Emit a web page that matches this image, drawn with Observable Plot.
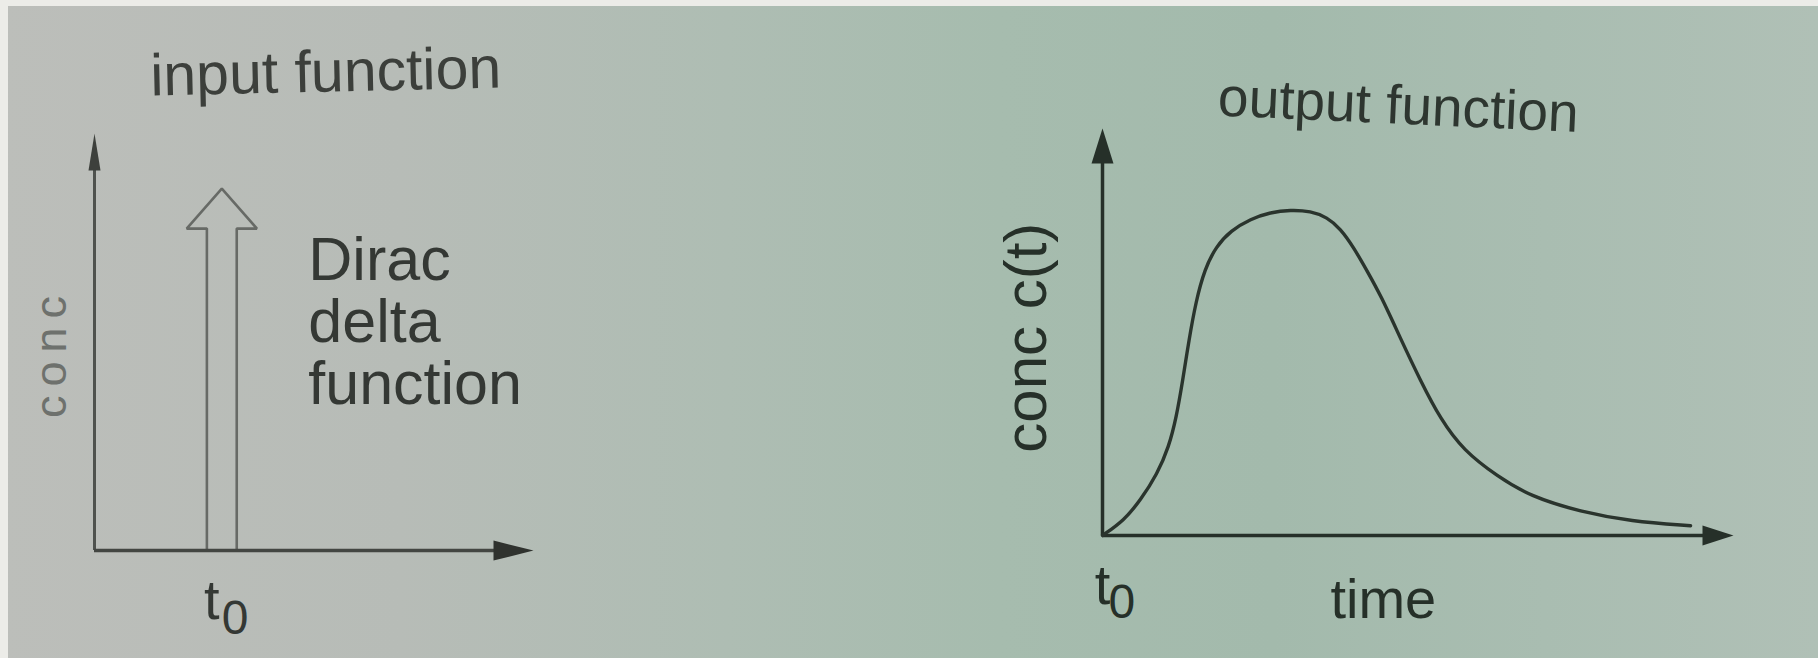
<!DOCTYPE html>
<html>
<head>
<meta charset="utf-8">
<script src="https://cdn.jsdelivr.net/npm/d3@7"></script>
<script src="https://cdn.jsdelivr.net/npm/@observablehq/plot@0.6"></script>
<style>
  html, body { margin: 0; padding: 0; }
  body {
    width: 1818px; height: 658px; overflow: hidden;
    background:
      linear-gradient(to bottom, #ecece8 0 6px, transparent 6px),
      linear-gradient(to right, #ecece8 0 8px, transparent 8px),
      linear-gradient(to right, #bcbeba 0%, #b7bcb7 22%, #aebdb3 40%, #a6bcae 55%, #a3baac 70%, #a9bdb1 85%, #b0c0b6 100%);
  }
  #fig { display: flex; }
</style>
</head>
<body>
<div id="fig"></div>
<script>
// Text shown on the two panels
const panelTitles = ["input function", "output function"];
const inputAxisLabel = "conc";
const outputAxisLabel = "conc c(t)";
const timeLabel = "time";
const impulseLabel = ["Dirac", "delta", "function"];
const t0Label = ["t", "0"];

// Input: an impulse (Dirac delta) injected at time t0
const impulseTime = [2.9];
const impulseTip = [8.68];

// Output: concentration response c(t) after the impulse
const outputTime = [0, 0.34, 0.60, 0.87, 1.05, 1.17, 1.27, 1.37, 1.48, 1.62, 1.80, 2.03, 2.35, 2.66, 2.98, 3.30, 3.56, 3.77, 3.98, 4.19, 4.41, 4.72, 5.04, 5.36, 5.72, 6.26, 6.78, 7.58, 8.37, 9.32];
const outputConc = [0, 0.37, 0.86, 1.52, 2.17, 2.90, 3.80, 4.80, 5.75, 6.55, 7.10, 7.49, 7.78, 7.94, 8.00, 7.97, 7.82, 7.54, 7.08, 6.51, 5.90, 4.85, 3.80, 2.85, 2.09, 1.45, 0.96, 0.58, 0.35, 0.24];

// Axis extent (both panels use a 0–10 frame; arrows sit at the ends)
const axisEnd = [10];

const font = "'Liberation Sans', Arial, Helvetica, sans-serif";

// Filled arrowhead with its tip at the anchor point, pointing up
const arrowHead = (len, half) => ({
  draw(ctx) {
    ctx.moveTo(0, 0);
    ctx.lineTo(half, len);
    ctx.lineTo(-half, len);
    ctx.closePath();
  }
});

// ---------- Left panel: input function ----------
const t0 = impulseTime[0];
const tip = impulseTip[0];
const shaftHalf = 0.34, headHalf = 0.8, headLen = 0.96;
const impulseOutline = [
  [t0 - shaftHalf, 0],
  [t0 - shaftHalf, tip - headLen],
  [t0 - headHalf, tip - headLen],
  [t0, tip],
  [t0 + headHalf, tip - headLen],
  [t0 + shaftHalf, tip - headLen],
  [t0 + shaftHalf, 0]
].map(([x, y]) => ({x, y}));

const leftInk = "#343834";
const left = Plot.plot({
  width: 909,
  height: 658,
  marginLeft: 94,
  marginRight: 376,
  marginTop: 133,
  marginBottom: 108,
  x: {domain: [0, axisEnd[0]], axis: null},
  y: {domain: [0, axisEnd[0]], axis: null},
  style: {background: "transparent", overflow: "visible", fontFamily: font},
  marks: [
    // hollow impulse arrow
    Plot.line(impulseOutline, {x: "x", y: "y", stroke: "#676a66", strokeWidth: 2.6, strokeLinejoin: "miter"}),
    // axes
    Plot.ruleX([0], {y1: 0, y2: axisEnd[0] - 0.5, stroke: "#4f524e", strokeWidth: 3}),
    Plot.dot([{x: 0, y: axisEnd[0]}], {x: "x", y: "y", symbol: arrowHead(37, 6), fill: "#3d403c", stroke: "none"}),
    Plot.ruleY([0], {x1: 0, x2: axisEnd[0] - 0.5, stroke: "#434642", strokeWidth: 3.5}),
    Plot.dot([{x: axisEnd[0], y: 0}], {x: "x", y: "y", rotate: 90, symbol: arrowHead(40, 10), fill: "#2f322e", stroke: "none"}),
    // title
    Plot.text([panelTitles[0]], {x: 1.28, y: 10.91, text: d => d, textAnchor: "start", lineAnchor: "bottom", rotate: -1.3, fontSize: 59, fill: "#3c3f3b"}),
    // impulse annotation
    Plot.text([impulseLabel.join("\n")], {x: 4.87, y: 7.55, text: d => d, textAnchor: "start", lineAnchor: "top", lineHeight: 1.02, fontSize: 61, fill: leftInk}),
    // vertical axis label
    Plot.text([inputAxisLabel], {x: -0.66, y: 4.75, text: d => d, rotate: -90, textAnchor: "middle", lineAnchor: "bottom", fontSize: 45, fill: "#6e716d"}),
    // t0 below the impulse
    Plot.text([t0Label[0]], {x: t0, y: 0, text: d => d, textAnchor: "middle", lineAnchor: "bottom", dx: -10, dy: 68, fontSize: 56, fill: leftInk}),
    Plot.text([t0Label[1]], {x: t0, y: 0, text: d => d, textAnchor: "start", lineAnchor: "bottom", dx: 0, dy: 83, fontSize: 48, fill: leftInk})
  ]
});

// ---------- Right panel: output function ----------
const outputData = outputTime.map((t, i) => ({t, c: outputConc[i]}));
const rightInk = "#263029";
const right = Plot.plot({
  width: 909,
  height: 658,
  marginLeft: 193,
  marginRight: 85,
  marginTop: 128,
  marginBottom: 123,
  x: {domain: [0, axisEnd[0]], axis: null},
  y: {domain: [0, axisEnd[0]], axis: null},
  style: {background: "transparent", overflow: "visible", fontFamily: font},
  marks: [
    Plot.ruleX([0], {y1: 0, y2: axisEnd[0] - 0.5, stroke: rightInk, strokeWidth: 3.5}),
    Plot.dot([{x: 0, y: axisEnd[0]}], {x: "x", y: "y", symbol: arrowHead(35, 11), fill: rightInk, stroke: "none"}),
    Plot.ruleY([0], {x1: 0, x2: axisEnd[0] - 0.3, stroke: rightInk, strokeWidth: 3.5}),
    Plot.dot([{x: axisEnd[0], y: 0}], {x: "x", y: "y", rotate: 90, symbol: arrowHead(31, 10), fill: rightInk, stroke: "none"}),
    // response curve
    Plot.line(outputData, {x: "t", y: "c", curve: "basis", stroke: "#2a342d", strokeWidth: 3.4}),
    // title
    Plot.text([panelTitles[1]], {x: 1.82, y: 10.32, text: d => d, textAnchor: "start", lineAnchor: "bottom", rotate: 2.6, fontSize: 55, fill: "#2e3630"}),
    // axis labels
    Plot.text([outputAxisLabel], {x: -0.9, y: 4.86, text: d => d, rotate: -90, textAnchor: "middle", lineAnchor: "bottom", fontSize: 60, fill: rightInk}),
    Plot.text([timeLabel], {x: 4.45, y: 0, text: d => d, textAnchor: "middle", lineAnchor: "bottom", dy: 82, fontSize: 56, fill: rightInk}),
    Plot.text([t0Label[0]], {x: 0, y: 0, text: d => d, textAnchor: "middle", lineAnchor: "bottom", dy: 68, fontSize: 56, fill: rightInk}),
    Plot.text([t0Label[1]], {x: 0, y: 0, text: d => d, textAnchor: "start", lineAnchor: "bottom", dx: 6, dy: 82, fontSize: 48, fill: rightInk})
  ]
});

// the small "conc" label is set with wide letter spacing
d3.select(left).selectAll("text")
  .filter(function() { return this.textContent === inputAxisLabel; })
  .attr("letter-spacing", "9px");

const fig = document.getElementById("fig");
fig.append(left, right);
</script>
</body>
</html>
